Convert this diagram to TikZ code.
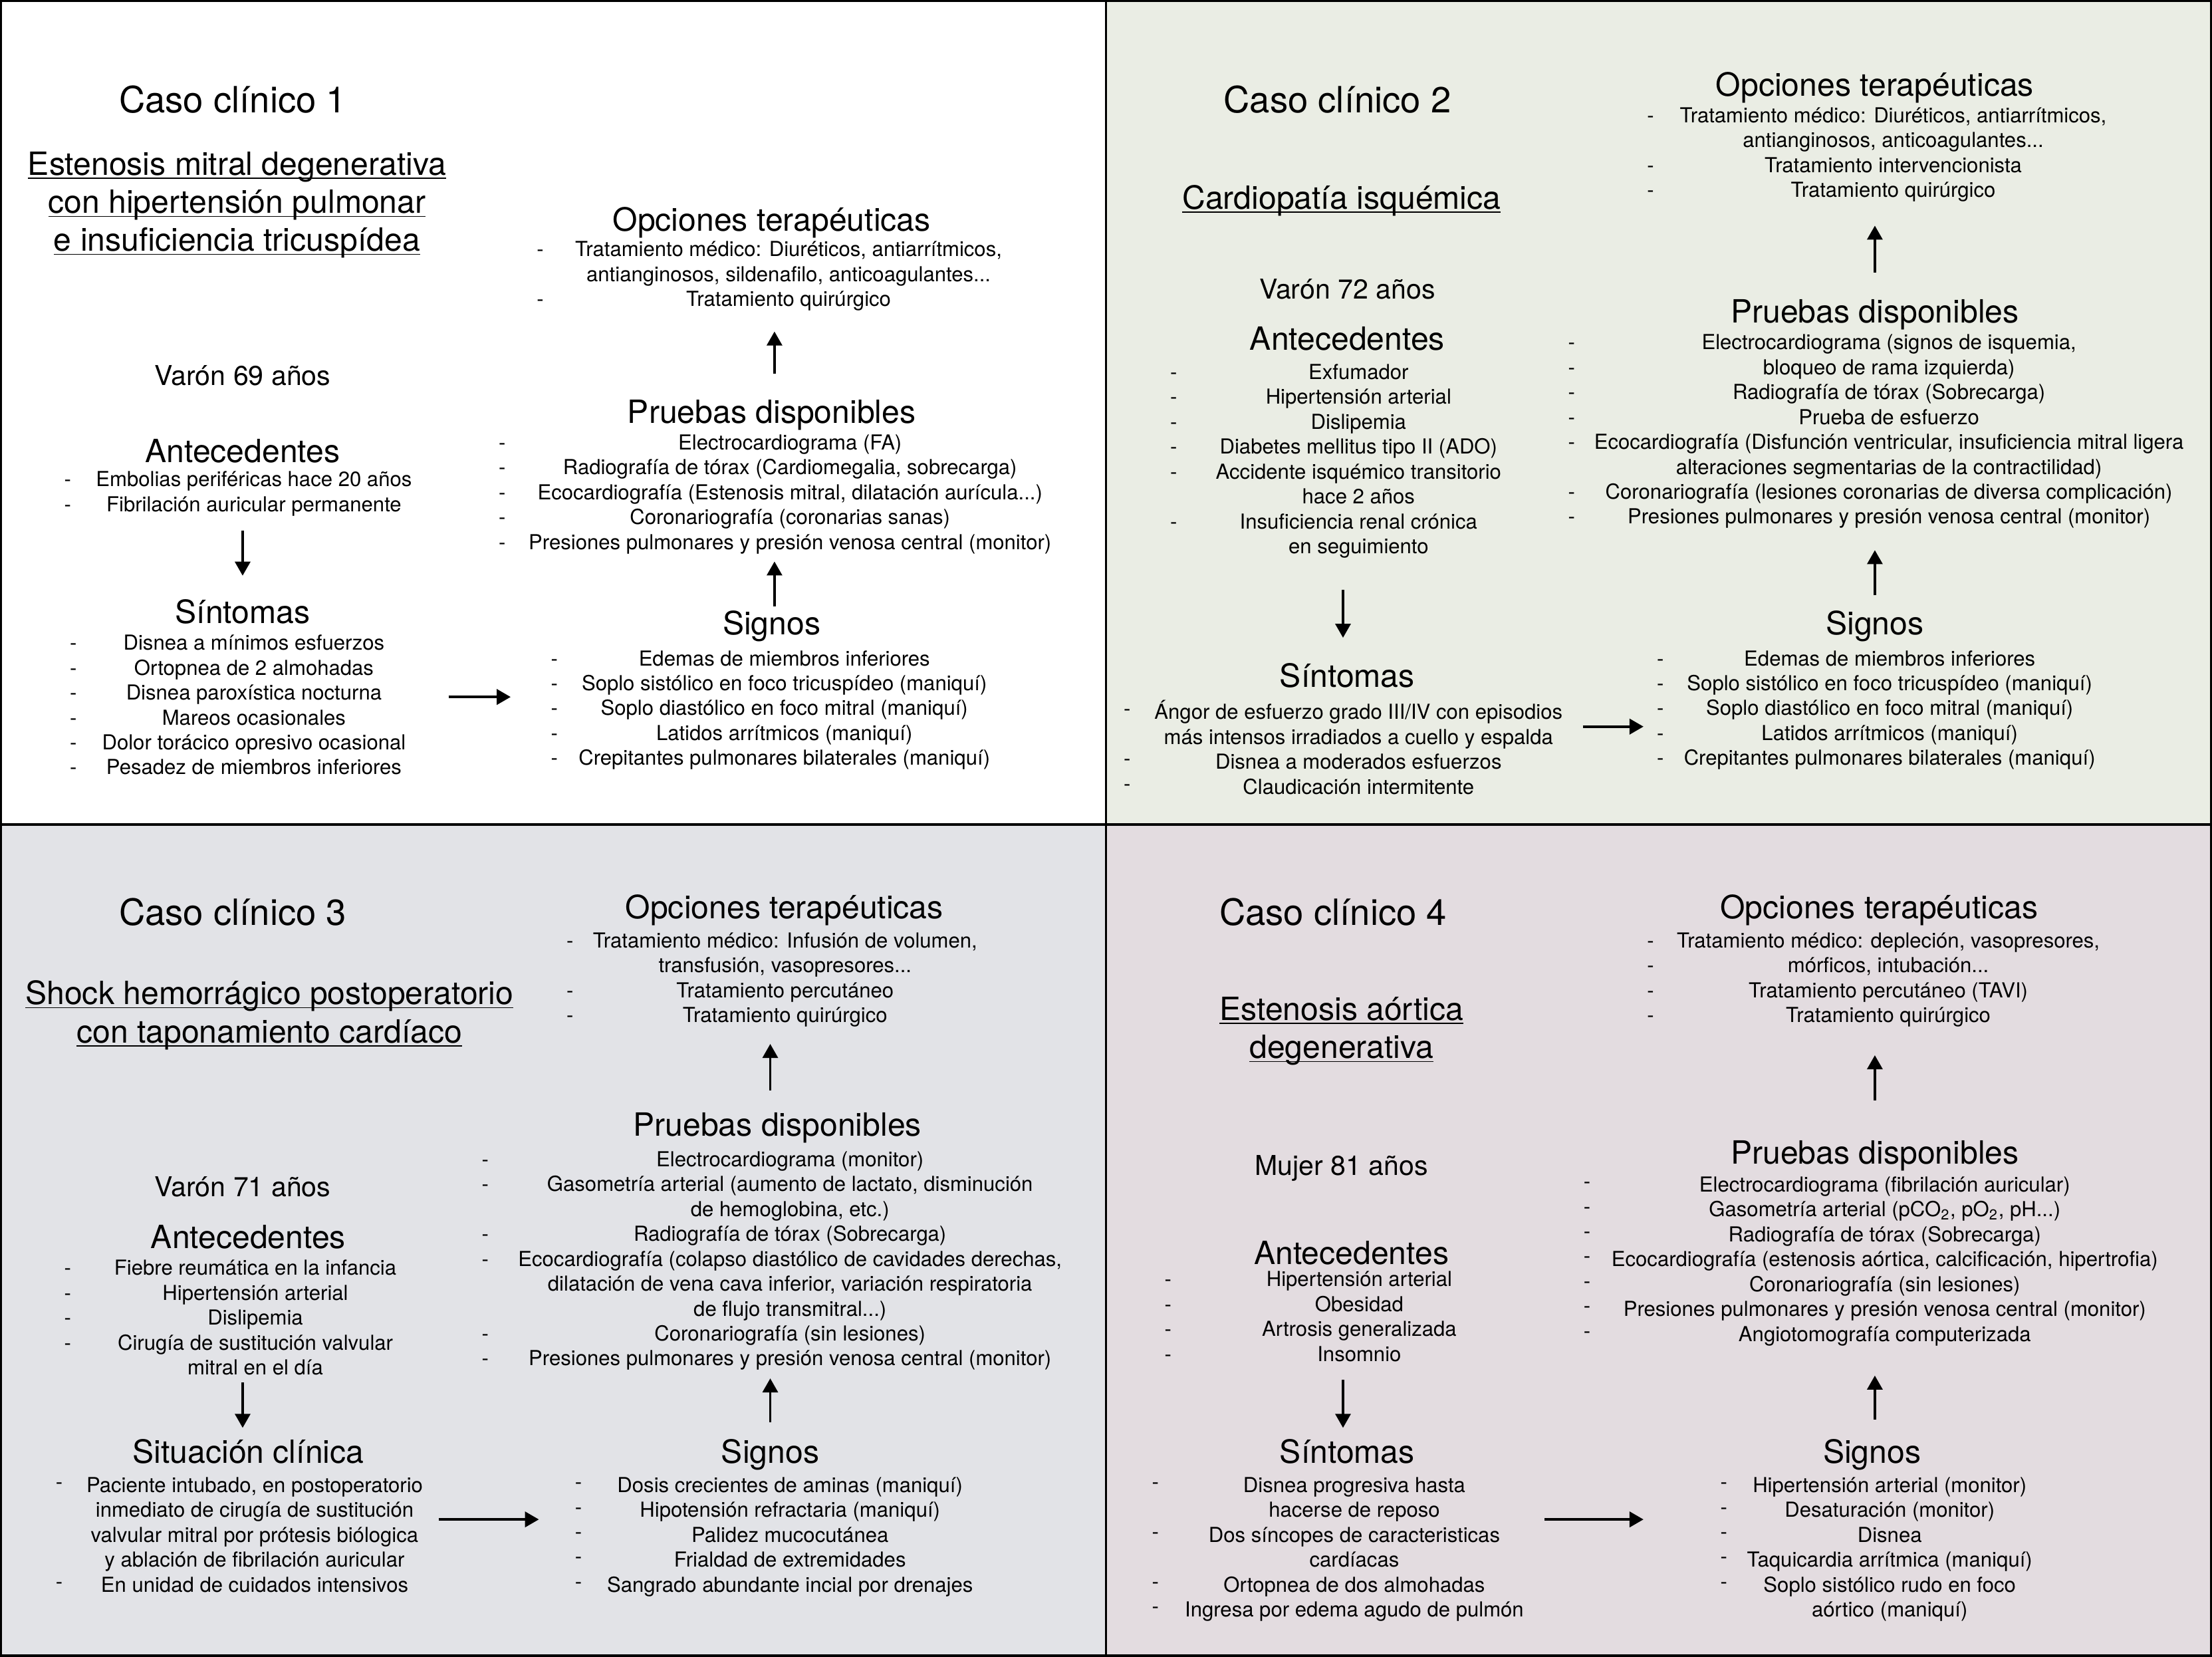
\documentclass[tikz,border=0pt]{standalone}
\usepackage{fontspec}
\setmainfont{TeX Gyre Heros}
\usetikzlibrary{arrows.meta}
\definecolor{fondo2}{RGB}{234,237,228}
\definecolor{fondo3}{RGB}{226,227,231}
\definecolor{fondo4}{RGB}{227,220,224}
\newcommand\ptos{...}

\begin{document}
\begin{tikzpicture}[x=0.021218cm, y=-0.021218cm]
\tikzset{
  titulo/.style={font=\fontsize{15.5}{18}\selectfont, anchor=base, inner sep=0pt},
  cabecera/.style={font=\fontsize{13.7}{16}\selectfont, anchor=base, inner sep=0pt},
  paciente/.style={font=\fontsize{11.7}{14}\selectfont, anchor=base, inner sep=0pt},
  linea/.style={font=\fontsize{8.85}{10.6}\selectfont, anchor=base, inner sep=0pt, yshift=-0.6pt},
  guion/.style={linea},
  alto/.style={yshift=1.4pt},
  flecha/.style={-{Triangle[length=2.1mm,width=2.3mm]}, line width=0.95pt},
  flechah/.style={flecha, line width=1.15pt}
}
% Fondo y marco
\useasboundingbox (0,0) rectangle (1568,1174);
\fill[fondo2] (784,0) rectangle (1568,584.4);
\fill[fondo3] (0,584.4) rectangle (784,1174);
\fill[fondo4] (784,584.4) rectangle (1568,1174);
\draw[line width=1.9pt] (0,0) rectangle (1568,1174);
\draw[line width=0.95pt] (784,0) -- (784,1174) (0,584.4) -- (1568,584.4);

% Caso clinico 1
\node[titulo] (tit1) at (165,80) {Caso clínico 1};
\node[cabecera] (sub1a) at (168,124) {\underline{\smash{Estenosis mitral degenerativa}}};
\node[cabecera] (sub1b) at (168,151) {\underline{\smash{con hipertensión pulmonar}}};
\node[cabecera] (sub1c) at (168,178) {\underline{\smash{e insuficiencia tricuspídea}}};
\node[paciente] (pac1) at (172,273) {Varón 69 años};
\node[cabecera] (hant1) at (172,328) {Antecedentes};
\foreach \texto [count=\k from 0] in {{Embolias periféricas hace 20 años},{Fibrilación auricular permanente}}
  \node[linea] (ant1-\k) at (180,343.8+17.65*\k) {\texto};
\foreach \k in {0,1} \node[guion] (gant1-\k) at (48,343.8+17.65*\k) {-};
\node[cabecera] (hsin1) at (172,442) {Síntomas};
\foreach \texto [count=\k from 0] in {{Disnea a mínimos esfuerzos},{Ortopnea de 2 almohadas},{Disnea paroxística nocturna},{Mareos ocasionales},{Dolor torácico opresivo ocasional},{Pesadez de miembros inferiores}}
  \node[linea] (sin1-\k) at (180,459.8+17.65*\k) {\texto};
\foreach \k in {0,...,5} \node[guion] (gsin1-\k) at (52,459.8+17.65*\k) {-};
\node[cabecera] (hop1) at (547,164) {Opciones terapéuticas};
\foreach \texto [count=\k from 0] in {{Tratamiento médico: Diuréticos, antiarrítmicos,},{antianginosos, sildenafilo, anticoagulantes\ptos},{Tratamiento quirúrgico}}
  \node[linea] (op1-\k) at (559,180.8+17.65*\k) {\texto};
\foreach \k in {0,2} \node[guion] (gop1-\k) at (383,180.8+17.65*\k) {-};
\node[cabecera] (hpr1) at (547,300) {Pruebas disponibles};
\foreach \texto [count=\k from 0] in {{Electrocardiograma (FA)},{Radiografía de tórax (Cardiomegalia, sobrecarga)},{Ecocardiografía (Estenosis mitral, dilatación aurícula\ptos)},{Coronariografía (coronarias sanas)},{Presiones pulmonares y presión venosa central (monitor)}}
  \node[linea] (pr1-\k) at (560,317.8+17.65*\k) {\texto};
\foreach \k in {0,...,4} \node[guion] (gpr1-\k) at (356,317.8+17.65*\k) {-};
\node[cabecera] (hsig1) at (547,450) {Signos};
\foreach \texto [count=\k from 0] in {{Edemas de miembros inferiores},{Soplo sistólico en foco tricuspídeo (maniquí)},{Soplo diastólico en foco mitral (maniquí)},{Latidos arrítmicos (maniquí)},{Crepitantes pulmonares bilaterales (maniquí)}}
  \node[linea] (sig1-\k) at (556,470.8+17.65*\k) {\texto};
\foreach \k in {0,...,4} \node[guion] (gsig1-\k) at (393,470.8+17.65*\k) {-};
\draw[flecha] ([shift={(-8,13.5)}]ant1-1.base) -- ([shift={(0,-34)}]hsin1.base);
\draw[flechah] ([shift={(138,-2.1)}]sin1-2.base) -- ([shift={(-194,-13.1)}]sig1-2.base);
\draw[flecha] ([shift={(2,-20)}]hsig1.base) -- ([shift={(-11,8.6)}]pr1-4.base);
\draw[flecha] ([shift={(2,-35)}]hpr1.base) -- ([shift={(-10,17.9)}]op1-2.base);

% Caso clinico 2
\node[titulo] (tit2) at (948,80) {Caso clínico 2};
\node[cabecera] (sub2a) at (951,148) {\underline{\smash{Cardiopatía isquémica}}};
\node[paciente] (pac2) at (955,212) {Varón 72 años};
\node[cabecera] (hant2) at (955,248) {Antecedentes};
\foreach \texto [count=\k from 0] in {{Exfumador},{Hipertensión arterial},{Dislipemia},{Diabetes mellitus tipo II (ADO)},{Accidente isquémico transitorio},{hace 2 años},{Insuficiencia renal crónica},{en seguimiento}}
  \node[linea] (ant2-\k) at (963,267.8+17.65*\k) {\texto};
\foreach \k in {0,1,2,3,4,6} \node[guion] (gant2-\k) at (832,267.8+17.65*\k) {-};
\node[cabecera] (hsin2) at (955,487) {Síntomas};
\foreach \texto [count=\k from 0] in {{Ángor de esfuerzo grado III/IV con episodios},{más intensos irradiados a cuello y espalda},{Disnea a moderados esfuerzos},{Claudicación intermitente}}
  \node[linea] (sin2-\k) at (963,508.8+17.65*\k) {\texto};
\foreach \k in {0,2,3} \node[guion,alto] (gsin2-\k) at (799,508.8+17.65*\k) {-};
\node[cabecera] (hop2) at (1329,68) {Opciones terapéuticas};
\foreach \texto [count=\k from 0] in {{Tratamiento médico: Diuréticos, antiarrítmicos,},{antianginosos, anticoagulantes\ptos},{Tratamiento intervencionista},{Tratamiento quirúrgico}}
  \node[linea] (op2-\k) at (1342,85.8+17.65*\k) {\texto};
\foreach \k in {0,2,3} \node[guion] (gop2-\k) at (1170,85.8+17.65*\k) {-};
\node[cabecera] (hpr2) at (1329,229) {Pruebas disponibles};
\foreach \texto [count=\k from 0] in {{Electrocardiograma (signos de isquemia,},{bloqueo de rama izquierda)},{Radiografía de tórax (Sobrecarga)},{Prueba de esfuerzo},{Ecocardiografía (Disfunción ventricular, insuficiencia mitral ligera},{alteraciones segmentarias de la contractilidad)},{Coronariografía (lesiones coronarias de diversa complicación)},{Presiones pulmonares y presión venosa central (monitor)}}
  \node[linea] (pr2-\k) at (1339,246.8+17.65*\k) {\texto};
\foreach \k in {0,1,2,3,4,6,7} \node[guion] (gpr2-\k) at (1114,246.8+17.65*\k) {-};
\node[cabecera] (hsig2) at (1329,450) {Signos};
\foreach \texto [count=\k from 0] in {{Edemas de miembros inferiores},{Soplo sistólico en foco tricuspídeo (maniquí)},{Soplo diastólico en foco mitral (maniquí)},{Latidos arrítmicos (maniquí)},{Crepitantes pulmonares bilaterales (maniquí)}}
  \node[linea] (sig2-\k) at (1339.5,470.8+17.65*\k) {\texto};
\foreach \k in {0,...,4} \node[guion] (gsig2-\k) at (1177,470.8+17.65*\k) {-};
\draw[flecha] ([shift={(-11,25.6)}]ant2-7.base) -- ([shift={(-3,-35)}]hsin2.base);
\draw[flechah] ([shift={(159,5.2)}]sin2-0.base) -- ([shift={(-174.5,7.9)}]sig2-2.base);
\draw[flecha] ([shift={(0,-28)}]hsig2.base) -- ([shift={(-10,18.6)}]pr2-7.base);
\draw[flecha] ([shift={(0,-36)}]hpr2.base) -- ([shift={(-13,20.2)}]op2-3.base);

% Caso clinico 3
\node[titulo] (tit3) at (165,656) {Caso clínico 3};
\node[cabecera] (sub3a) at (191,712) {\underline{\smash{Shock hemorrágico postoperatorio}}};
\node[cabecera] (sub3b) at (191,739) {\underline{\smash{con taponamiento cardíaco}}};
\node[paciente] (pac3) at (172,848) {Varón 71 años};
\node[cabecera] (hant3) at (176,885) {Antecedentes};
\foreach \texto [count=\k from 0] in {{Fiebre reumática en la infancia},{Hipertensión arterial},{Dislipemia},{Cirugía de sustitución valvular},{mitral en el día}}
  \node[linea] (ant3-\k) at (181,902.8+17.65*\k) {\texto};
\foreach \k in {0,...,3} \node[guion] (gant3-\k) at (48,902.8+17.65*\k) {-};
\node[cabecera] (hsit3) at (176,1037) {Situación clínica};
\foreach \texto [count=\k from 0] in {{Paciente intubado, en postoperatorio},{inmediato de cirugía de sustitución},{valvular mitral por prótesis biólogica},{y ablación de fibrilación auricular},{En unidad de cuidados intensivos}}
  \node[linea] (sit3-\k) at (180.5,1056.8+17.65*\k) {\texto};
\foreach \k in {0,4} \node[guion,alto] (gsit3-\k) at (42,1056.8+17.65*\k) {-};
\node[cabecera] (hop3) at (556,651) {Opciones terapéuticas};
\foreach \texto [count=\k from 0] in {{Tratamiento médico: Infusión de volumen,},{transfusión, vasopresores\ptos},{Tratamiento percutáneo},{Tratamiento quirúrgico}}
  \node[linea] (op3-\k) at (556.5,670.8+17.65*\k) {\texto};
\foreach \k in {0,2,3} \node[guion] (gop3-\k) at (404,670.8+17.65*\k) {-};
\node[cabecera] (hpr3) at (551,805) {Pruebas disponibles};
\foreach \texto [count=\k from 0] in {{Electrocardiograma (monitor)},{Gasometría arterial (aumento de lactato, disminución},{de hemoglobina, etc.)},{Radiografía de tórax (Sobrecarga)},{Ecocardiografía (colapso diastólico de cavidades derechas,},{dilatación de vena cava inferior, variación respiratoria},{de flujo transmitral\ptos)},{Coronariografía (sin lesiones)},{Presiones pulmonares y presión venosa central (monitor)}}
  \node[linea] (pr3-\k) at (560,825.8+17.65*\k) {\texto};
\foreach \k in {0,1,3,4,7,8} \node[guion] (gpr3-\k) at (344,825.8+17.65*\k) {-};
\node[cabecera] (hsig3) at (546,1037) {Signos};
\foreach \texto [count=\k from 0] in {{Dosis crecientes de aminas (maniquí)},{Hipotensión refractaria (maniquí)},{Palidez mucocutánea},{Frialdad de extremidades},{Sangrado abundante incial por drenajes}}
  \node[linea] (sig3-\k) at (560,1056.8+17.65*\k) {\texto};
\foreach \k in {0,...,4} \node[guion,alto] (gsig3-\k) at (410,1056.8+17.65*\k) {-};
\draw[flecha] ([shift={(-9,5.6)}]ant3-4.base) -- ([shift={(-4,-25)}]hsit3.base);
\draw[flechah] ([shift={(130.5,1.5)}]sit3-1.base) -- ([shift={(-178,1.5)}]sig3-1.base);
\draw[flecha] ([shift={(0,-29)}]hsig3.base) -- ([shift={(-14,9)}]pr3-8.base);
\draw[flecha] ([shift={(-5,-32)}]hpr3.base) -- ([shift={(-10.5,15.2)}]op3-3.base);

% Caso clinico 4
\node[titulo] (tit4) at (945,656) {Caso clínico 4};
\node[cabecera] (sub4a) at (951,723) {\underline{\smash{Estenosis aórtica}}};
\node[cabecera] (sub4b) at (951,750) {\underline{\smash{degenerativa}}};
\node[paciente] (pac4) at (951,833) {Mujer 81 años};
\node[cabecera] (hant4) at (958,896) {Antecedentes};
\foreach \texto [count=\k from 0] in {{Hipertensión arterial},{Obesidad},{Artrosis generalizada},{Insomnio}}
  \node[linea] (ant4-\k) at (963.5,910.8+17.65*\k) {\texto};
\foreach \k in {0,...,3} \node[guion] (gant4-\k) at (828,910.8+17.65*\k) {-};
\node[cabecera] (hsin4) at (955,1037) {Síntomas};
\foreach \texto [count=\k from 0] in {{Disnea progresiva hasta},{hacerse de reposo},{Dos síncopes de caracteristicas},{cardíacas},{Ortopnea de dos almohadas},{Ingresa por edema agudo de pulmón}}
  \node[linea] (sin4-\k) at (960,1056.8+17.65*\k) {\texto};
\foreach \k in {0,2,4,5} \node[guion,alto] (gsin4-\k) at (819,1056.8+17.65*\k) {-};
\node[cabecera] (hop4) at (1332,651) {Opciones terapéuticas};
\foreach \texto [count=\k from 0] in {{Tratamiento médico: depleción, vasopresores,},{mórficos, intubación\ptos},{Tratamiento percutáneo (TAVI)},{Tratamiento quirúrgico}}
  \node[linea] (op4-\k) at (1338.5,670.8+17.65*\k) {\texto};
\foreach \k in {0,...,3} \node[guion] (gop4-\k) at (1170,670.8+17.65*\k) {-};
\node[cabecera] (hpr4) at (1329,825) {Pruebas disponibles};
\foreach \texto [count=\k from 0] in {{Electrocardiograma (fibrilación auricular)},{Gasometría arterial (pCO\textsubscript{2}, pO\textsubscript{2}, pH\ptos)},{Radiografía de tórax (Sobrecarga)},{Ecocardiografía (estenosis aórtica, calcificación, hipertrofia)},{Coronariografía (sin lesiones)},{Presiones pulmonares y presión venosa central (monitor)},{Angiotomografía computerizada}}
  \node[linea] (pr4-\k) at (1336,843.8+17.65*\k) {\texto};
\foreach \k in {0,...,6} \node[guion,alto] (gpr4-\k) at (1125,843.8+17.65*\k) {-};
\node[cabecera] (hsig4) at (1327,1037) {Signos};
\foreach \texto [count=\k from 0] in {{Hipertensión arterial (monitor)},{Desaturación (monitor)},{Disnea},{Taquicardia arrítmica (maniquí)},{Soplo sistólico rudo en foco},{aórtico (maniquí)}}
  \node[linea] (sig4-\k) at (1339.5,1056.8+17.65*\k) {\texto};
\foreach \k in {0,...,4} \node[guion,alto] (gsig4-\k) at (1222,1056.8+17.65*\k) {-};
\draw[flecha] ([shift={(-11.5,13.2)}]ant4-3.base) -- ([shift={(-3,-25)}]hsin4.base);
\draw[flechah] ([shift={(135,1.5)}]sin4-1.base) -- ([shift={(-174.5,1.5)}]sig4-1.base);
\draw[flecha] ([shift={(2,-31)}]hsig4.base) -- ([shift={(-7,24.3)}]pr4-6.base);
\draw[flecha] ([shift={(0,-45)}]hpr4.base) -- ([shift={(-9.5,23.2)}]op4-3.base);
\end{tikzpicture}
\end{document}
